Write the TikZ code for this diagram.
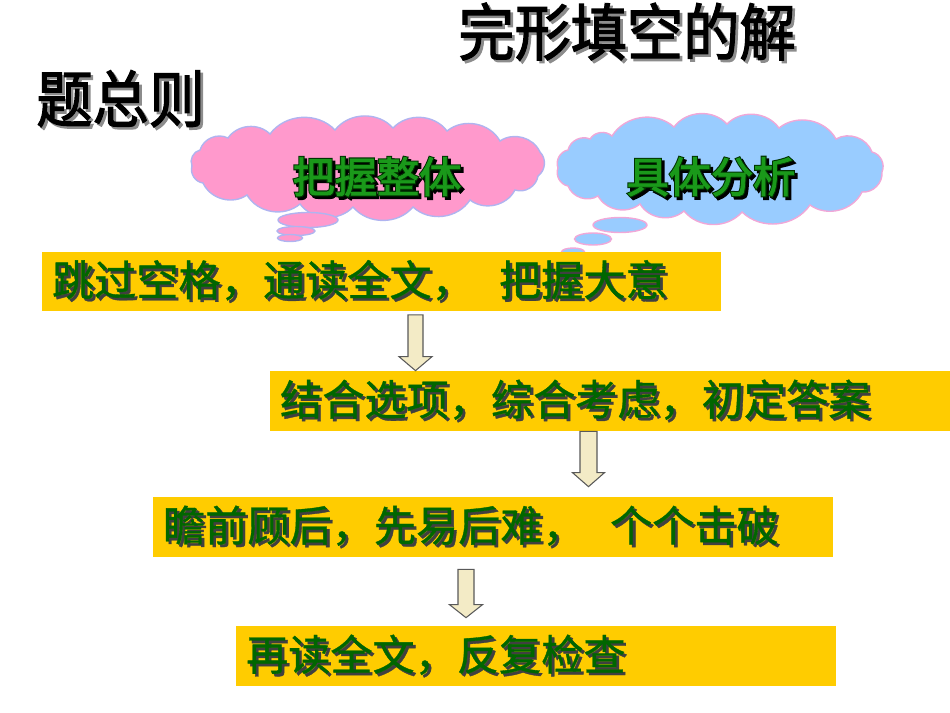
\documentclass[tikz,border=0pt]{standalone}
\usepackage{fontspec}
\newfontfamily\cjk[FakeBold=0.8]{Noto Sans CJK SC}
\newfontfamily\cjkbf[FakeBold=2]{Noto Sans CJK SC}
\newfontfamily\cjkfat[FakeBold=7]{Noto Sans CJK SC}
\usetikzlibrary{positioning, calc, shapes.geometric}

\definecolor{boxyellow}{HTML}{FFCC00}
\definecolor{txtgreen}{HTML}{006600}
\definecolor{cloudgreen}{HTML}{1A991A}
\definecolor{rimgreen}{HTML}{003300}
\definecolor{cloudpink}{HTML}{FF99CC}
\definecolor{cloudblue}{HTML}{99CCFF}
\definecolor{pinkrim}{HTML}{B0B4F0}
\definecolor{bluerim}{HTML}{F0A8D8}
\definecolor{arrowfill}{HTML}{F3EBC6}

% text with a dark copy shifted down right
\newcommand\shadowtext[3]{\makebox[0pt][l]{\hspace{1.5pt}\raisebox{-1.5pt}{\color{#1}#3}}{\color{#2}#3}}
% fat outlined text for the clouds
\newcommand\outlinetext[1]{\makebox[0pt][l]{\hspace{1.5pt}\raisebox{-1.5pt}{\cjkfat\color{black}#1}}\makebox[0pt][l]{\cjkfat\color{rimgreen}#1}{\cjkbf\color{cloudgreen}#1}}

\begin{document}
\begin{tikzpicture}[x=0.02cm, y=-0.02cm,
    title/.style={inner sep=0, anchor=west, font=\cjkbf\fontsize{32pt}{36pt}\selectfont},
    stepbox/.style={fill=boxyellow, inner xsep=0.2cm, inner ysep=0, minimum height=1.2cm,
        align=left, font=\cjk\fontsize{24pt}{28pt}\selectfont},
    lobe/.style={bend left=50},
    bubble/.style={ellipse, inner sep=0, line width=0.8pt},
    cloudlabel/.style={inner sep=0, font=\fontsize{24pt}{28pt}\selectfont},
    blockarrow/.style={fill=arrowfill, draw=black!65, line width=0.6pt, line join=miter}]

    \useasboundingbox (0,0) rectangle (950,713);

    % the heading
    \node[title] (head1) at (458,33) {\shadowtext{black!45}{black}{\scalebox{1}[1.1]{完形填空的解}}};
    \node[title] (head2) at (36,100) {\shadowtext{black!45}{black}{\scalebox{1}[1.1]{题总则}}};

    % pink thought cloud
    \draw[fill=cloudpink, draw=pinkrim, line width=0.8pt] (200,150)
        \foreach \p in {{228,138},{270,134},{335,130},{393,128},{447,131},{500,141},{540,152},{538,176},
                        {515,190},{470,200},{413,207},{353,207},{300,204},{247,195},{203,183},{192,166}}
        { to[lobe] (\p) } to[lobe] (200,150) -- cycle;
    \node[bubble, fill=cloudpink, draw=pinkrim, minimum width=1.2cm, minimum height=0.3cm] (pinkb1) at (308,220) {};
    \node[bubble, fill=cloudpink, draw=pinkrim, minimum width=0.76cm, minimum height=0.18cm] (pinkb2) at (296,231) {};
    \node[bubble, fill=cloudpink, draw=pinkrim, minimum width=0.5cm, minimum height=0.14cm] (pinkb3) at (290,238) {};
    \node[cloudlabel] (grasp) at (377,178) {\outlinetext{把握整体}};

    % blue thought cloud
    \draw[fill=cloudblue, draw=bluerim, line width=0.8pt] (568,150)
        \foreach \p in {{590,139},{612,136},{674,127},{727,124},{779,128},{836,139},{872,152},{882,172},
                        {862,192},{810,205},{742,212},{684,211},{640,204},{598,196},{568,186},{558,168}}
        { to[lobe] (\p) } to[lobe] (568,150) -- cycle;
    \node[bubble, fill=cloudblue, draw=bluerim, minimum width=1.08cm, minimum height=0.3cm] (blueb1) at (620,225) {};
    \node[bubble, fill=cloudblue, draw=bluerim, minimum width=0.74cm, minimum height=0.24cm] (blueb2) at (593,239) {};
    \node[bubble, fill=cloudblue, draw=bluerim, minimum width=0.46cm, minimum height=0.16cm] (blueb3) at (573,252) {};
    \node[cloudlabel] (detail) at (711,178) {\outlinetext{具体分析}};

    % the four steps
    \node[stepbox, text width=13.18cm] (b1) at (381.5,281.5)
        {\shadowtext{black!75}{txtgreen}{跳过空格，通读全文，\hspace{0.6em}把握大意}};
    \node[stepbox, text width=13.2cm] (b2) at (610,401)
        {\shadowtext{black!75}{txtgreen}{结合选项，综合考虑，初定答案}};
    \node[stepbox, text width=13.2cm] (b3) at (493,527)
        {\shadowtext{black!75}{txtgreen}{瞻前顾后，先易后难，\hspace{0.6em}个个击破}};
    \node[stepbox, text width=11.6cm] (b4) at (536,656)
        {\shadowtext{black!75}{txtgreen}{再读全文，反复检查}};

    % block arrows between the steps
    \coordinate (a1x) at (415.5,0);
    \coordinate (a2x) at (588.5,0);
    \coordinate (a3x) at (466,0);
    \coordinate (a1top) at ($(b1.south -| a1x)+(0,3)$);
    \coordinate (a1tip) at (b2.north -| a1x);
    \coordinate (a2top) at (b2.south -| a2x);
    \coordinate (a2tip) at ($(b3.north -| a2x)+(0,-10)$);
    \coordinate (a3top) at ($(b3.south -| a3x)+(0,12)$);
    \coordinate (a3tip) at ($(b4.north -| a3x)+(0,-8)$);

    \draw[blockarrow] ($(a1top)+(-7.5,0)$) -- ($(a1top)+(7.5,0)$) -- ($(a1tip)+(7.5,-14)$) -- ($(a1tip)+(16.5,-14)$)
        -- (a1tip) -- ($(a1tip)+(-16.5,-14)$) -- ($(a1tip)+(-7.5,-14)$) -- cycle;
    \draw[blockarrow] ($(a2top)+(-8.5,0)$) -- ($(a2top)+(8.5,0)$) -- ($(a2tip)+(8.5,-14)$) -- ($(a2tip)+(16,-14)$)
        -- (a2tip) -- ($(a2tip)+(-16,-14)$) -- ($(a2tip)+(-8.5,-14)$) -- cycle;
    \draw[blockarrow] ($(a3top)+(-8,0)$) -- ($(a3top)+(8,0)$) -- ($(a3tip)+(8,-13)$) -- ($(a3tip)+(16.5,-13)$)
        -- (a3tip) -- ($(a3tip)+(-16.5,-13)$) -- ($(a3tip)+(-8,-13)$) -- cycle;
\end{tikzpicture}
\end{document}
